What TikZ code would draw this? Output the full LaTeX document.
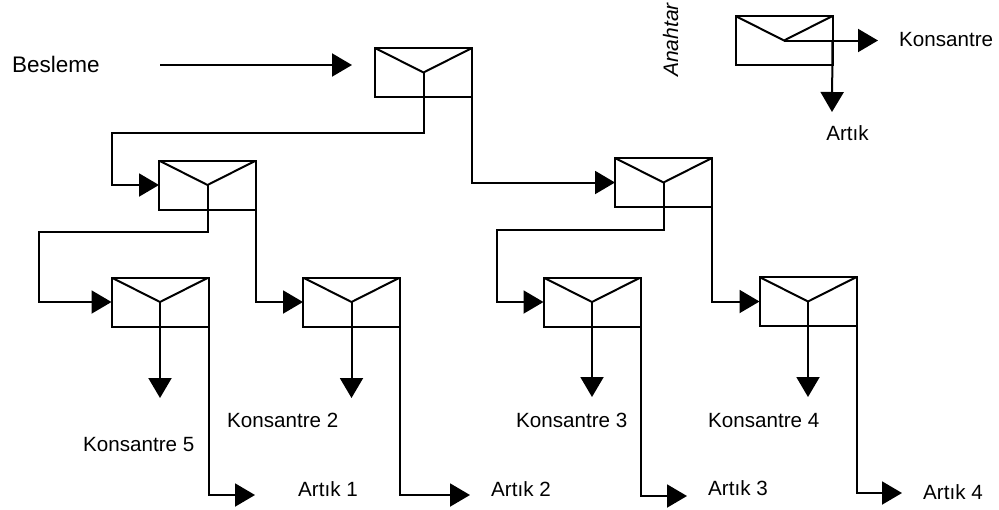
\documentclass[tikz,border=0pt]{standalone}
\usepackage{fontspec}
\setmainfont{Liberation Sans}
\usetikzlibrary{arrows.meta,calc}

\begin{document}
\begin{tikzpicture}[x=1pt,y=-1pt,
  % flotation cell: rectangle with an envelope-like flap meeting at the centre
  cell/.style={draw, line width=2pt, minimum width=97pt, minimum height=49pt,
    inner sep=0pt, outer sep=0pt,
    path picture={\draw[line width=2pt]
      (path picture bounding box.north west) -- (path picture bounding box.center)
      -- (path picture bounding box.north east);}},
  flow/.style={line width=2pt, -{Triangle[length=20pt,width=23pt]}},
  lbl/.style={font=\fontsize{20.6}{24}\selectfont, inner sep=0pt,
    text height=15pt, text depth=0pt},
]
\useasboundingbox (0,0) rectangle (999,509);

% cells
\node[cell] (rough) at (423.5,72.5) {};
\node[cell] (left)  at (207.5,185)  {};
\node[cell] (right) at (663.5,182.5) {};
\node[cell] (ll)    at (160,302)    {};
\node[cell] (lr)    at (351.5,302)  {};
\node[cell] (rl)    at (592,302)    {};
\node[cell] (rr)    at (808,301.5)  {};
\node[cell] (key)   at (784,40.5)   {};

% free ends of the product streams
\coordinate (feedS) at (160,65);
\coordinate (feedE) at (352,65);
\coordinate (llC) at (160,398);
\coordinate (lrC) at (351.5,398);
\coordinate (rlC) at (592,397);
\coordinate (rrC) at (808,397);
\coordinate (llT) at (255,495);
\coordinate (lrT) at (470,495);
\coordinate (rlT) at (687,496);
\coordinate (rrT) at (902,493);
\coordinate (keyC) at (878,40.5);
\coordinate (keyT) at (832,112);

% feed
\draw[flow] (feedS) -- (feedE);

% concentrate streams going on to the next cell
\draw[flow] (rough.center) -- ($(rough.center)+(0,60)$) -| ($(left.west)+(-47,0)$) -- (left.west);
\draw[flow] (left.center) -- ($(left.center)+(0,47)$) -| ($(ll.west)+(-73,0)$) -- (ll.west);
\draw[flow] (right.center) -- ($(right.center)+(0,47)$) -| ($(rl.west)+(-47,0)$) -- (rl.west);

% tailings streams going on to the next cell
\draw[flow] (rough.east) |- (right.west);
\draw[flow] (left.east) |- (lr.west);
\draw[flow] (right.east) |- (rr.west);

% final concentrates
\draw[flow] (ll.center) -- (llC);
\draw[flow] (lr.center) -- (lrC);
\draw[flow] (rl.center) -- (rlC);
\draw[flow] (rr.center) -- (rrC);

% final tailings
\draw[flow] (ll.east) |- (llT);
\draw[flow] (lr.east) |- (lrT);
\draw[flow] (rl.east) |- (rlT);
\draw[flow] (rr.east) |- (rrT);

% legend cell
\draw[flow] (key.center) -- (keyC);
\draw[flow] (key.east) -- (keyT);

% labels
\node[lbl, font=\fontsize{22.5}{26}\selectfont, text height=16pt, anchor=west] (besleme) at (12,64) {Besleme};
\node[lbl, font=\fontsize{21}{24}\selectfont\itshape, rotate=90] (anahtar) at (670.5,40) {Anahtar};
\node[lbl, anchor=west] (keyKon) at (899,38.5) {Konsantre};
\node[lbl] (keyArt) at (847.5,132.5) {Artık};

\node[lbl, anchor=west] (k5) at (83,443.5) {Konsantre 5};
\node[lbl, anchor=west] (k2) at (227,420.3) {Konsantre 2};
\node[lbl, anchor=west] (k3) at (516,420) {Konsantre 3};
\node[lbl, anchor=west] (k4) at (708,420) {Konsantre 4};

\node[lbl, anchor=west] (a1) at (298,489) {Artık 1};
\node[lbl, anchor=west] (a2) at (491,489) {Artık 2};
\node[lbl, anchor=west] (a3) at (708,488) {Artık 3};
\node[lbl, anchor=west] (a4) at (923,492) {Artık 4};
\end{tikzpicture}
\end{document}
